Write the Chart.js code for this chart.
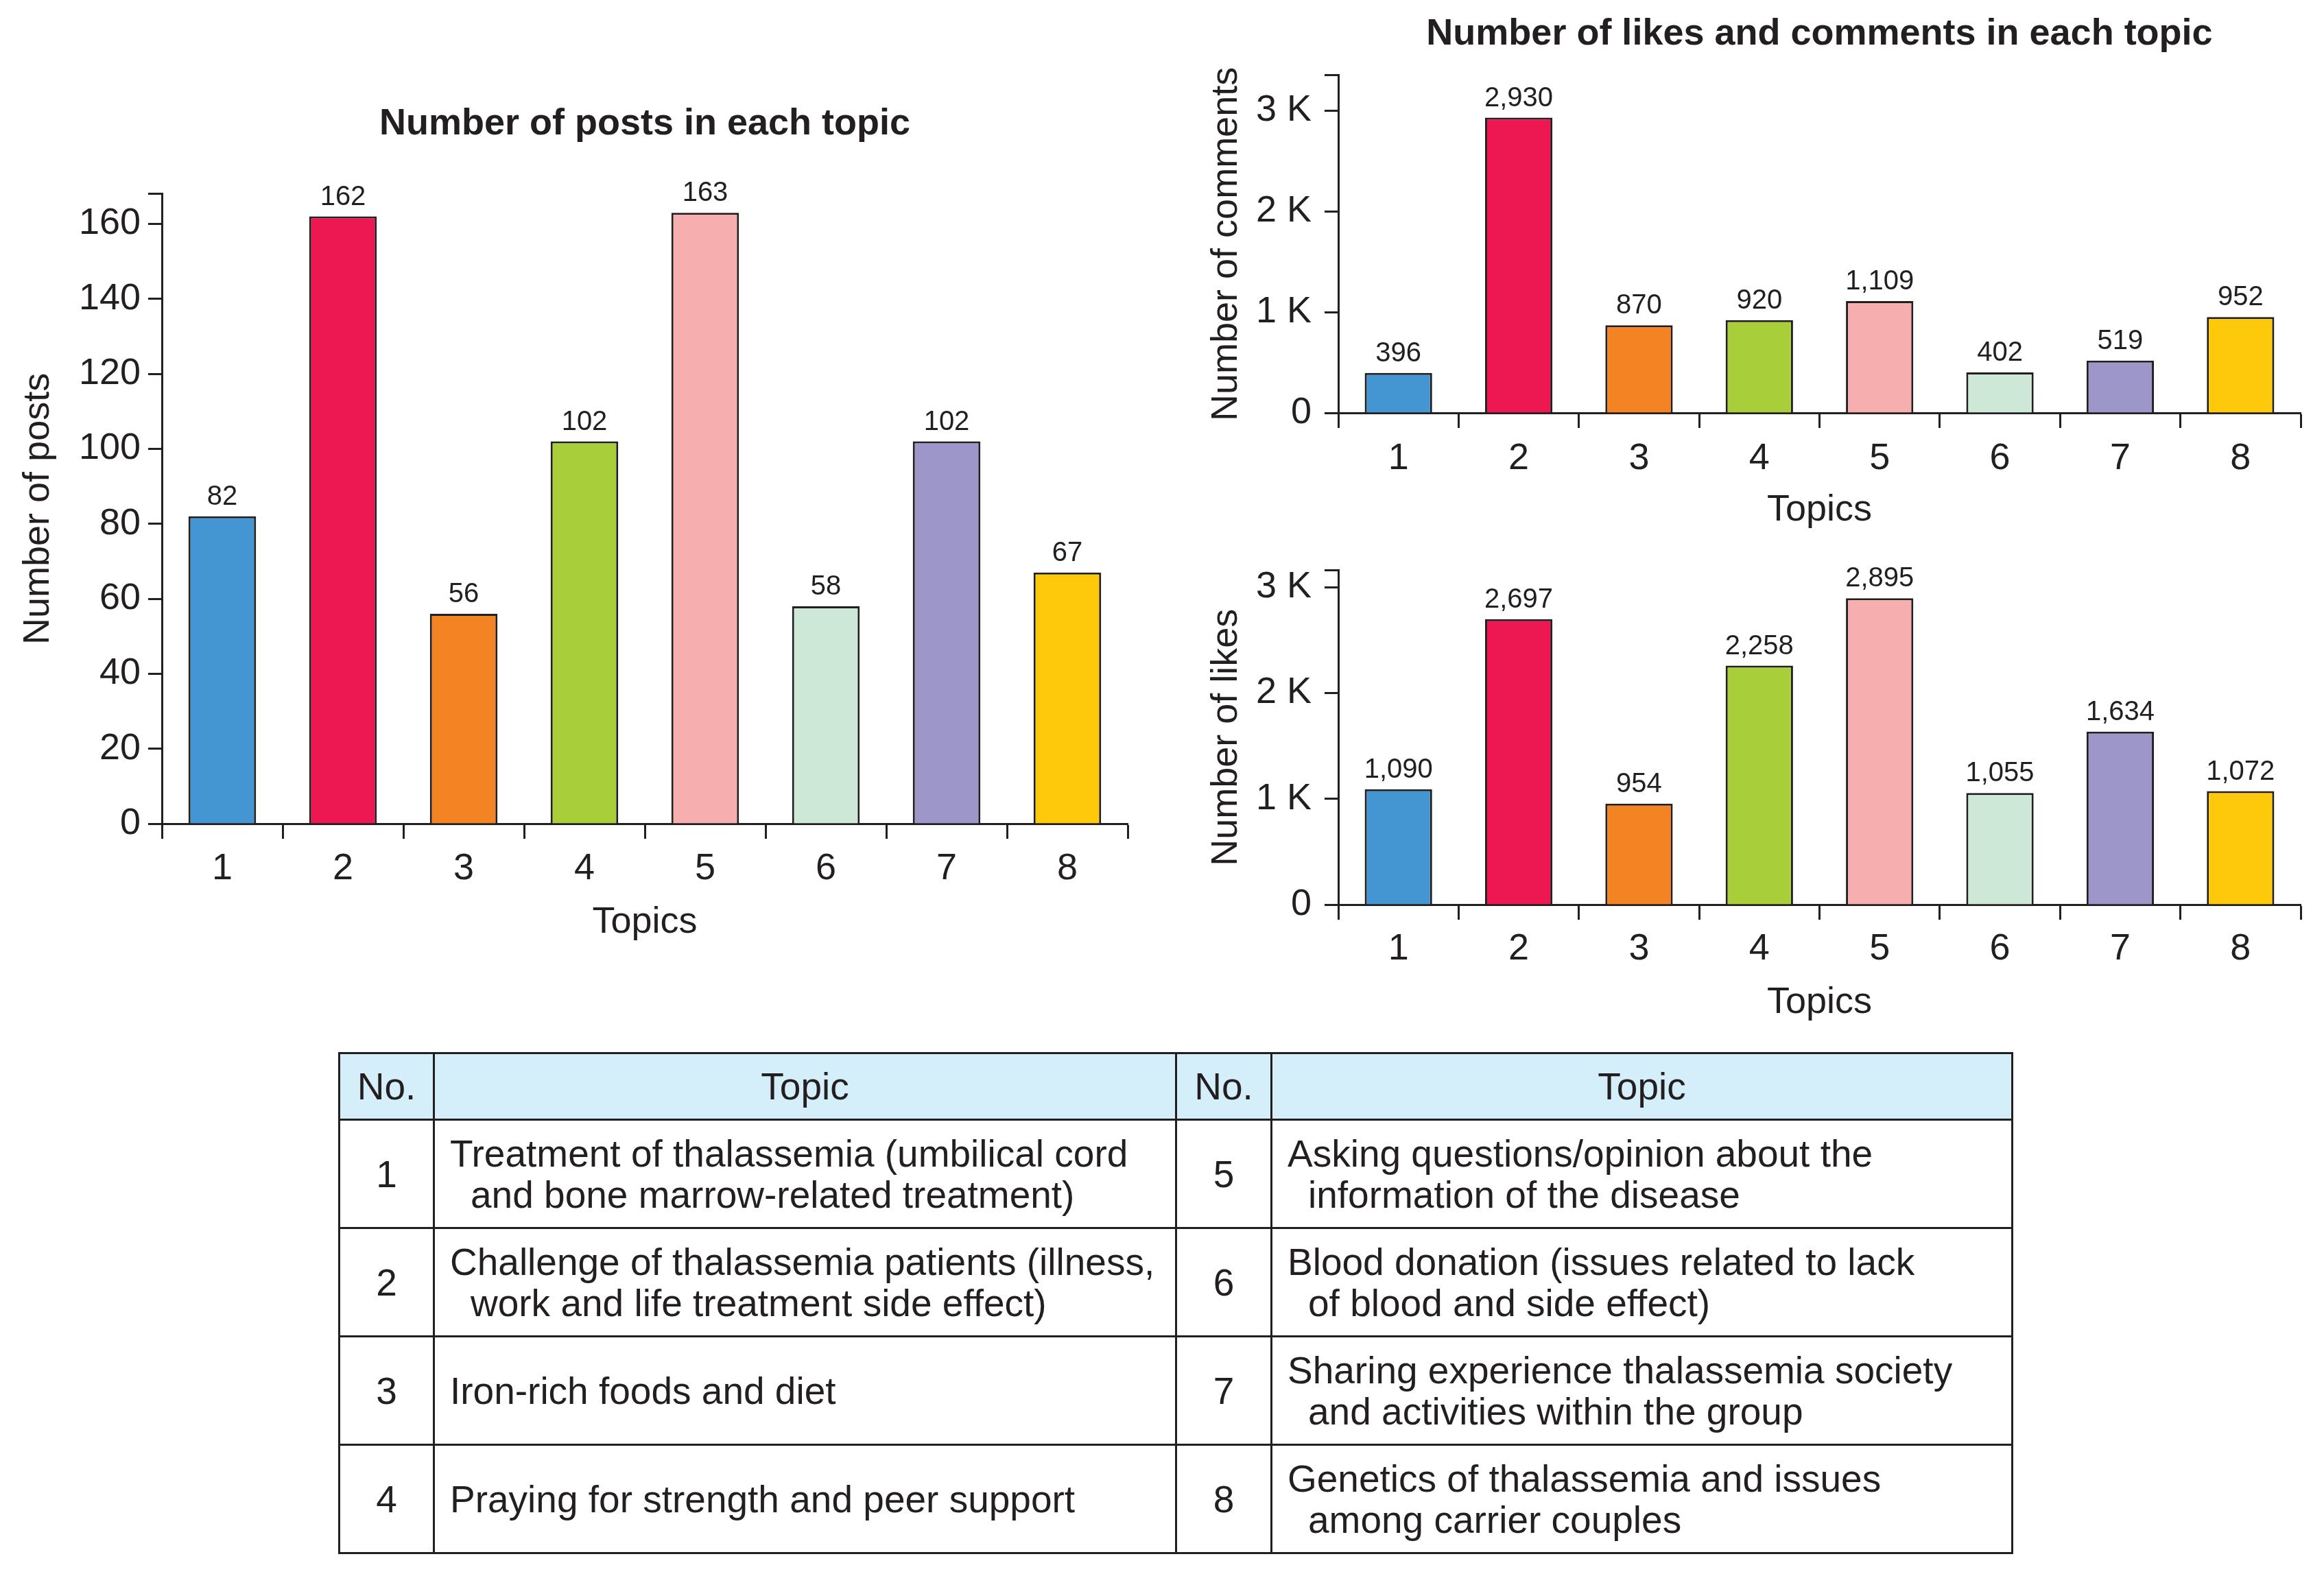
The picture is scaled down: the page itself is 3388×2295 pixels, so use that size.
<!DOCTYPE html>
<html>
<head>
<meta charset="utf-8">
<script src="https://cdn.jsdelivr.net/npm/chart.js@4.4.0/dist/chart.umd.min.js"></script>
<style>
  body { margin: 0; background: #fff; width: 3388px; height: 2295px; position: relative; overflow: hidden;
         font-family: "Liberation Sans", Arial, sans-serif; color: #231f20; }
  canvas { position: absolute; }
  #topicTable { position: absolute; left: 493px; top: 1534px; width: 2439px; border-collapse: collapse; table-layout: fixed; }
  #topicTable td, #topicTable th { border: 3px solid #231f20; font-size: 55px; line-height: 60px; font-weight: normal; padding: 0; }
  #topicTable th { background: #d4eefa; height: 94px; text-align: center; }
  #topicTable td { height: 155px; }
  #topicTable td.no { text-align: center; }
  #topicTable td.txt { padding-left: 52px; text-indent: -30px; }
</style>
</head>
<body>
<canvas id="postsChart" width="1700" height="1420" style="left:0;top:2px"></canvas>
<canvas id="commentsChart" width="1688" height="780" style="left:1700px;top:0"></canvas>
<canvas id="likesChart" width="1688" height="720" style="left:1700px;top:780px"></canvas>
<table id="topicTable"></table>
<script>
const topics = ['1', '2', '3', '4', '5', '6', '7', '8'];
const posts = [82, 162, 56, 102, 163, 58, 102, 67];
const comments = [396, 2930, 870, 920, 1109, 402, 519, 952];
const likes = [1090, 2697, 954, 2258, 2895, 1055, 1634, 1072];
const postTicks = [0, 20, 40, 60, 80, 100, 120, 140, 160];
const kTicks = [0, 1000, 2000, 3000];
const barColors = ['#4396d2', '#ed1751', '#f38323', '#a8cf39', '#f6aeae', '#cee8d8', '#9d97c9', '#ffc90b'];
const topicNames = [
  ['Treatment of thalassemia (umbilical cord', 'and bone marrow-related treatment)'],
  ['Challenge of thalassemia patients (illness,', 'work and life treatment side effect)'],
  ['Iron-rich foods and diet'],
  ['Praying for strength and peer support'],
  ['Asking questions/opinion about the', 'information of the disease'],
  ['Blood donation (issues related to lack', 'of blood and side effect)'],
  ['Sharing experience thalassemia society', 'and activities within the group'],
  ['Genetics of thalassemia and issues', 'among carrier couples']
];

const ink = '#231f20';
const family = '"Liberation Sans", Arial, sans-serif';
Chart.defaults.font.family = family;
Chart.defaults.color = ink;

// numbers over the bars
const valueLabels = {
  id: 'valueLabels',
  afterDatasetsDraw(chart) {
    const ctx = chart.ctx;
    const meta = chart.getDatasetMeta(0);
    const data = chart.data.datasets[0].data;
    ctx.save();
    ctx.font = '40px ' + family;
    ctx.fillStyle = ink;
    ctx.textAlign = 'center';
    ctx.textBaseline = 'alphabetic';
    meta.data.forEach((bar, i) => {
      ctx.fillText(data[i].toLocaleString('en-US'), bar.x, bar.y - 17);
    });
    ctx.restore();
  }
};

function makeChart(id, values, cfg) {
  return new Chart(document.getElementById(id), {
    type: 'bar',
    data: {
      labels: topics,
      datasets: [{
        data: values,
        backgroundColor: barColors,
        borderColor: ink,
        borderWidth: 3,
        barPercentage: 0.56,
        categoryPercentage: 1
      }]
    },
    options: {
      responsive: false,
      animation: false,
      devicePixelRatio: 1,
      layout: { padding: cfg.padding },
      plugins: {
        legend: { display: false },
        tooltip: { enabled: false },
        title: cfg.title ? {
          display: true, text: cfg.title, fullSize: false, color: ink,
          font: { size: 54, weight: 'bold', family: family },
          padding: cfg.titlePad
        } : { display: false }
      },
      scales: {
        x: {
          border: { color: ink, width: 3 },
          grid: { offset: true, drawOnChartArea: false, drawTicks: true, tickLength: 22, tickWidth: 3, tickColor: ink },
          ticks: { padding: cfg.xTickPad, color: ink, font: { size: 54 } },
          afterFit: s => { s.height = cfg.xHeight; },
          title: { display: true, text: 'Topics', color: ink, font: { size: 54 }, padding: { top: 0, bottom: cfg.xTitlePad } }
        },
        y: {
          min: 0,
          max: cfg.max,
          border: { color: ink, width: 3 },
          grid: { drawOnChartArea: false, drawTicks: true, tickLength: 20, tickWidth: 3, tickColor: ink },
          ticks: { padding: cfg.yTickPad, color: ink, font: { size: 54 }, callback: cfg.fmt },
          // fixed tick values plus an unlabelled cap tick at the top of the axis
          afterBuildTicks: s => { s.ticks = cfg.ticks.map(v => ({ value: v })).concat([{ value: cfg.max }]); },
          afterFit: s => { s.width = cfg.yWidth; },
          title: { display: true, text: cfg.yTitle, color: ink, font: { size: 54 }, padding: { top: cfg.yTitlePad, bottom: 0 } }
        }
      }
    },
    plugins: [valueLabels]
  });
}

const kFmt = v => v === 0 ? '0' : (v % 1000 === 0 ? (v / 1000) + ' K' : '');

makeChart('postsChart', posts, {
  padding: { left: 0, right: 56, top: 0, bottom: 0 },
  title: 'Number of posts in each topic',
  titlePad: { top: 147, bottom: 69 },
  max: 168, ticks: postTicks,
  fmt: v => v % 20 === 0 ? v : '',
  yTitle: 'Number of posts', yWidth: 236, yTitlePad: 24, yTickPad: 11,
  xHeight: 221, xTickPad: 12, xTitlePad: 44
});

makeChart('commentsChart', comments, {
  padding: { left: 0, right: 34, top: 0, bottom: 0 },
  title: 'Number of likes and comments in each topic',
  titlePad: { top: 18, bottom: 27 },
  max: 3350, ticks: kTicks,
  fmt: kFmt,
  yTitle: 'Number of comments', yWidth: 251, yTitlePad: 56, yTickPad: 19,
  xHeight: 178, xTickPad: 13, xTitlePad: 3
});

makeChart('likesChart', likes, {
  padding: { left: 0, right: 34, top: 46, bottom: 0 },
  title: null,
  max: 3160, ticks: kTicks,
  fmt: kFmt,
  yTitle: 'Number of likes', yWidth: 251, yTitlePad: 56, yTickPad: 19,
  xHeight: 181, xTickPad: 11, xTitlePad: 5
});

// topic legend table
const table = document.getElementById('topicTable');
let html = '<colgroup><col style="width:138px"><col style="width:1082px"><col style="width:139px"><col style="width:1080px"></colgroup>';
html += '<tr><th>No.</th><th>Topic</th><th>No.</th><th>Topic</th></tr>';
for (let r = 0; r < 4; r++) {
  const a = r, b = r + 4;
  html += '<tr><td class="no">' + topics[a] + '</td><td class="txt">' + topicNames[a].join('<br>') +
          '</td><td class="no">' + topics[b] + '</td><td class="txt">' + topicNames[b].join('<br>') + '</td></tr>';
}
table.innerHTML = html;
</script>
</body>
</html>
